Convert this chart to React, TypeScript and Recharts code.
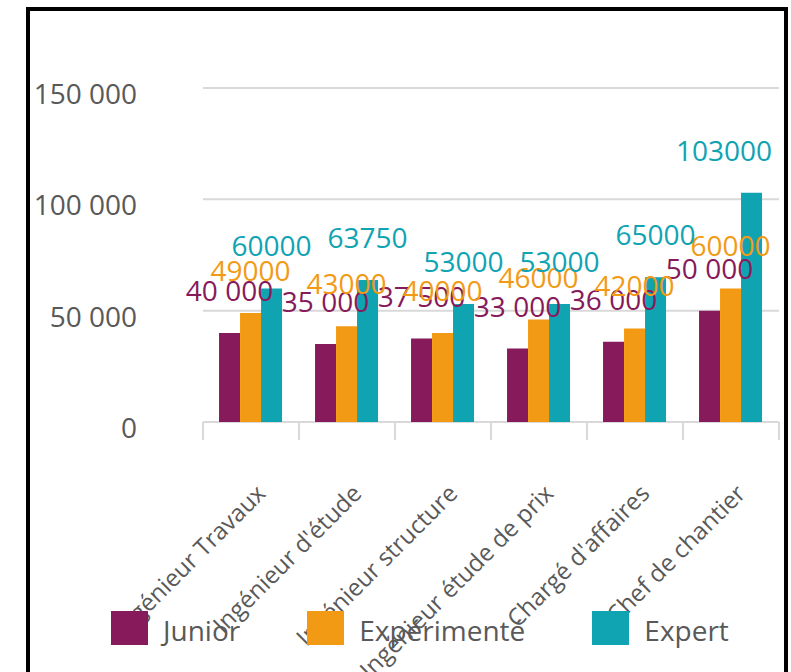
import { Bar, BarChart, CartesianGrid, LabelList, XAxis, YAxis } from "recharts"

const categories = [
  "Ingénieur Travaux",
  "Ingénieur d'étude",
  "Ingénieur structure",
  "Ingénieur étude de prix",
  "Chargé d'affaires",
  "Chef de chantier",
]
const junior = [40000, 35000, 37500, 33000, 36000, 50000]
const experimente = [49000, 43000, 40000, 46000, 42000, 60000]
const expert = [60000, 63750, 53000, 53000, 65000, 103000]
const yTicks = [0, 50000, 100000, 150000]

const series = [
  { key: "junior", name: "Junior", color: "#861A5B", spaced: true },
  { key: "experimente", name: "Expérimenté", color: "#F39A14", spaced: false },
  { key: "expert", name: "Expert", color: "#10A3B2", spaced: false },
]

const data = categories.map((name, i) => ({
  name,
  junior: junior[i],
  experimente: experimente[i],
  expert: expert[i],
}))

const FONT = "'Open Sans', 'Noto Sans', sans-serif"
const GREY = "#595959"
const LINE = "#D9D9D9"

const spaced = (v: number) => String(v).replace(/\B(?=(\d{3})+(?!\d))/g, " ")

function YTick({ y, payload }: any) {
  return (
    <text x={137} y={y + 16} textAnchor="end" fill={GREY} fontSize={28} fontFamily={FONT}>
      {spaced(payload.value)}
    </text>
  )
}

// category label + the small separator marks between categories
function CatTick({ x, y, payload, index, width, visibleTicksCount }: any) {
  const half = payload?.offset || width / (visibleTicksCount || categories.length) / 2
  const isLast = index === categories.length - 1
  return (
    <g>
      <line x1={x - half} x2={x - half} y1={y} y2={y + 18} stroke={LINE} strokeWidth={2} />
      {isLast && <line x1={x + half} x2={x + half} y1={y} y2={y + 18} stroke={LINE} strokeWidth={2} />}
      <g transform={`translate(${x + 16},${y + 73})`}>
        <text textAnchor="end" transform="rotate(-45)" fill={GREY} fontSize={24} fontFamily={FONT}>
          {payload.value}
        </text>
      </g>
    </g>
  )
}

// value label above each bar, pushed back inside the frame when it would spill over
const valueLabel = (color: string, useSpace: boolean) => (props: any) => {
  const { x, y, width, value } = props
  const text = useSpace ? spaced(Number(value)) : String(value)
  const est = text.length * 16
  let cx = Number(x) + Number(width) / 2
  let anchor: "middle" | "end" = "middle"
  if (cx + est / 2 > 772) {
    cx = 772
    anchor = "end"
  }
  return (
    <text x={cx} y={Number(y) - 32} textAnchor={anchor} fill={color} fontSize={28} fontFamily={FONT}>
      {text}
    </text>
  )
}

export default function App() {
  return (
    <div
      style={{
        position: "absolute",
        left: 0,
        top: 0,
        width: 791,
        height: 672,
        overflow: "hidden",
        background: "#fff",
        fontFamily: FONT,
      }}
    >
      <div
        style={{
          position: "absolute",
          left: 26,
          top: 7,
          width: 754,
          height: 720,
          border: "4px solid #000",
        }}
      />
      <div style={{ position: "absolute", left: 0, top: 0 }}>
        <BarChart
          width={791}
          height={672}
          data={data}
          margin={{ top: 88, right: 12, left: 0, bottom: 0 }}
          barCategoryGap="16.7%"
          barGap={0}
        >
          <CartesianGrid horizontal vertical={false} stroke={LINE} strokeWidth={2} />
          <XAxis
            dataKey="name"
            height={250}
            tickSize={0}
            tickMargin={0}
            axisLine={false}
            tickLine={false}
            interval={0}
            tick={<CatTick />}
          />
          <YAxis
            width={203}
            domain={[0, 150000]}
            ticks={yTicks}
            axisLine={false}
            tickLine={false}
            tick={<YTick />}
          />
          {series.map((s) => (
            <Bar key={s.key} dataKey={s.key} name={s.name} fill={s.color} isAnimationActive={false}>
              <LabelList dataKey={s.key} position="top" content={valueLabel(s.color, s.spaced)} />
            </Bar>
          ))}
        </BarChart>
      </div>
      <div
        style={{
          position: "absolute",
          left: 111,
          top: 609,
          display: "flex",
          gap: 67,
          alignItems: "center",
        }}
      >
        {series.map((s) => (
          <div key={s.key} style={{ display: "flex", alignItems: "center", gap: 15 }}>
            <div style={{ width: 37, height: 34, background: s.color }} />
            <span style={{ fontSize: 28, color: GREY, paddingTop: 4, lineHeight: "34px" }}>{s.name}</span>
          </div>
        ))}
      </div>
    </div>
  )
}
